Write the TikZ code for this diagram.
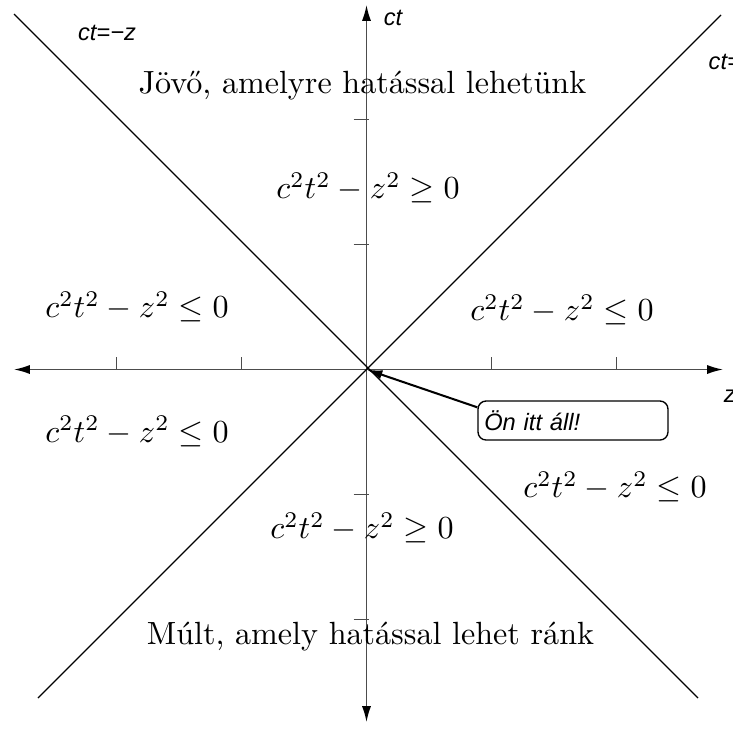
\documentclass[tikz,border=0pt]{standalone}
\usepackage{fontspec}
\newfontfamily\helv{Liberation Sans}
\usetikzlibrary{arrows.meta,calc}
\begin{document}
\begin{tikzpicture}[x=1.3cm,y=1.3cm,
    hegy/.tip={Latex[black,length=4.7pt,width=2.7pt]},
    tengely/.style={draw=black!70, line width=0.45pt, hegy-hegy},
    osztas/.style={draw=black!70, line width=0.45pt},
    fenykup/.style={line width=0.35pt},
    felirat/.style={font=\helv\itshape\fontsize{7}{8}\selectfont, inner sep=0pt},
    tartomany/.style={inner sep=0pt, scale=0.95, transform shape}]
        \useasboundingbox (-2.932,-2.868) rectangle (2.932,2.956);
        \clip (-2.932,-2.868) rectangle (2.932,2.956);
        \coordinate (O) at (0,0);

        % Tengelyek
        \draw[tengely] (-2.82,0) -- (2.852,0);
        \draw[tengely] (0,-2.82) -- (0,2.916);
        \foreach \x in {-2,-1,1,2} \draw[osztas] (\x,0) -- (\x,0.104);
        \foreach \y in {-2,-1,1,2} \draw[osztas] (-0.104,\y) -- (0.02,\y);
        \node[felirat] (ct) at (0.212,2.812) {ct};
        \node[felirat, anchor=west] (z) at (2.854,-0.212) {z};

        % Fenykup
        \draw[fenykup] (-2.82,2.844) -- (2.652,-2.628);
        \draw[fenykup] (2.836,2.836) -- (-2.628,-2.628);
        \node[felirat] (minusz) at (-2.076,2.692) {ct=−z};
        \node[felirat, anchor=west] (plusz) at (2.732,2.46) {ct=z};

        % Tartomanyok
        \node[tartomany] (jovo) at (-0.032,2.268) {Jövő, amelyre hatással lehetünk};
        \node[tartomany] (multszoveg) at (0.032,-2.14) {Múlt, amely hatással lehet ránk};
        \node[tartomany] (fent) at (0.012,1.452) {$c^2t^2-z^2\geq 0$};
        \node[tartomany] (lent) at (-0.036,-1.268) {$c^2t^2-z^2\geq 0$};
        \node[tartomany] (balfent) at (-1.836,0.5) {$c^2t^2-z^2\leq 0$};
        \node[tartomany] (jobbfent) at (1.564,0.476) {$c^2t^2-z^2\leq 0$};
        \node[tartomany] (ballent) at (-1.836,-0.496) {$c^2t^2-z^2\leq 0$};
        \node[tartomany] (jobblent) at (1.988,-0.94) {$c^2t^2-z^2\leq 0$};

        % Itt allunk
        \node[felirat, draw, rounded corners=2.4pt, inner xsep=0.065cm,
              text width=1.846cm, minimum height=0.406cm, align=left] (itt) at (1.652,-0.408) {Ön itt áll!};
        \draw[line width=0.6pt, -hegy] ($(itt.north west)+(0,-0.056)$) -- (O);
\end{tikzpicture}
\end{document}
